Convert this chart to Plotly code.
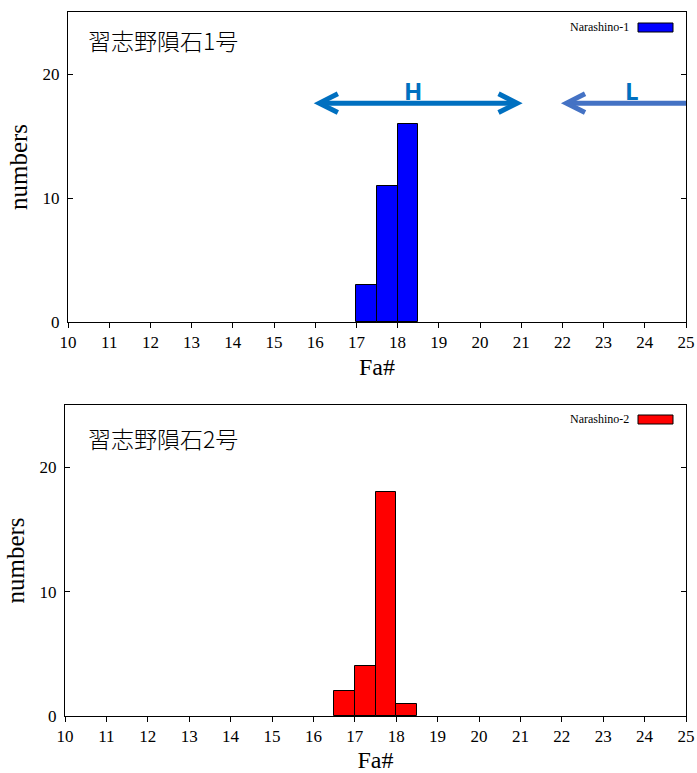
import plotly.graph_objects as go

# ---- data ----
bin_centers_1 = [17.25, 17.75, 18.25]
counts_1 = [3, 11, 16]
bin_centers_2 = [16.75, 17.25, 17.75, 18.25]
counts_2 = [2, 4, 18, 1]
bin_width = 0.5
series_names = ["Narashino-1", "Narashino-2"]
panel_titles = ["習志野隕石1号", "習志野隕石2号"]
x_ticks = list(range(10, 26))
y_ticks = [0, 10, 20]
h_range = [16, 21]
l_range = [22, 25]

W, H = 697, 773
fig = go.Figure()

fig.add_trace(go.Bar(x=bin_centers_1, y=counts_1, width=bin_width,
                     marker=dict(color="#0000FF", line=dict(color="black", width=1)),
                     xaxis="x", yaxis="y", showlegend=False, name=series_names[0]))
fig.add_trace(go.Bar(x=bin_centers_2, y=counts_2, width=bin_width,
                     marker=dict(color="#FF0000", line=dict(color="black", width=1)),
                     xaxis="x2", yaxis="y2", showlegend=False, name=series_names[1]))

serif = "Liberation Serif, Times New Roman, serif"
tickfont = dict(family=serif, size=17, color="black")
x_common = dict(showline=True, linecolor="black", linewidth=1, mirror=True,
                ticks="outside", ticklen=5, tickcolor="black", showgrid=False,
                zeroline=False, automargin=False, tickfont=tickfont, range=[10, 25],
                tickvals=x_ticks)
y_common = dict(showline=True, linecolor="black", linewidth=1, mirror="ticks",
                ticks="inside", ticklen=5, tickcolor="black", showgrid=False,
                zeroline=False, automargin=False, tickfont=tickfont, range=[0, 25],
                tickvals=y_ticks, ticklabelstandoff=4)

fig.update_layout(
    width=W, height=H, margin=dict(l=0, r=0, t=0, b=0, autoexpand=False),
    plot_bgcolor="white", paper_bgcolor="white", bargap=0,
    xaxis=dict(domain=[68 / W, 686 / W], anchor="y",
               title=dict(text="Fa#", font=dict(family=serif, size=24, color="black"), standoff=6),
               **x_common),
    yaxis=dict(domain=[1 - 322 / H, 1 - 12 / H], anchor="x",
               title=dict(text="numbers", font=dict(family=serif, size=25, color="black"), standoff=7),
               **y_common),
    xaxis2=dict(domain=[65 / W, 686 / W], anchor="y2",
                title=dict(text="Fa#", font=dict(family=serif, size=24, color="black"), standoff=6),
                **x_common),
    yaxis2=dict(domain=[1 - 716 / H, 1 - 405 / H], anchor="x2",
                title=dict(text="numbers", font=dict(family=serif, size=25, color="black"), standoff=7),
                **y_common),
)

cjk = "Noto Sans CJK JP"
# panel titles
for txt, yc in [(panel_titles[0], 40), (panel_titles[1], 438)]:
    fig.add_annotation(text=txt, xref="paper", yref="paper", x=86 / W, y=1 - yc / H,
                       xanchor="left", yanchor="middle", showarrow=False,
                       font=dict(family=cjk, size=23, color="black", weight=300))

# legends (text left of swatch, gnuplot style)
for name, color, yc, y0, y1 in [(series_names[0], "#0000FF", 27, 23, 32),
                                 (series_names[1], "#FF0000", 419, 415, 424)]:
    fig.add_annotation(text=name, xref="paper", yref="paper", x=631 / W, y=1 - yc / H,
                       xanchor="right", yanchor="middle", showarrow=False,
                       font=dict(family=serif, size=12, color="black"))
    fig.add_shape(type="rect", xref="paper", yref="paper", x0=638 / W, x1=673 / W,
                  y0=1 - y1 / H, y1=1 - y0 / H, fillcolor=color,
                  line=dict(color="black", width=1))

# arrows for H and L ranges (top panel)
ya = 17.65
dx, dy = 0.45, 0.75
inset = 0.1
hc = "#0070C0"
lc = "#4472C4"
hl, hr = h_range[0] + inset, h_range[1] - inset
ll = l_range[0] + inset
fig.add_shape(type="line", xref="x", yref="y", x0=hl + 0.05, x1=hr - 0.05,
              y0=ya, y1=ya, line=dict(color=hc, width=5))
fig.add_shape(type="path", xref="x", yref="y",
              path=f"M {hl+dx},{ya+dy} L {hl},{ya} L {hl+dx},{ya-dy}",
              line=dict(color=hc, width=5))
fig.add_shape(type="path", xref="x", yref="y",
              path=f"M {hr-dx},{ya+dy} L {hr},{ya} L {hr-dx},{ya-dy}",
              line=dict(color=hc, width=5))
fig.add_shape(type="line", xref="x", yref="y", x0=ll + 0.05, x1=l_range[1],
              y0=ya, y1=ya, line=dict(color=lc, width=5))
fig.add_shape(type="path", xref="x", yref="y",
              path=f"M {ll+dx},{ya+dy} L {ll},{ya} L {ll+dx},{ya-dy}",
              line=dict(color=lc, width=5))
fig.add_annotation(text="<b>H</b>", xref="x", yref="y", x=18.37, y=18.7, showarrow=False,
                   xanchor="center", yanchor="middle",
                   font=dict(family="Open Sans", size=24, color=hc))
fig.add_annotation(text="<b>L</b>", xref="x", yref="y", x=23.69, y=18.7, showarrow=False,
                   xanchor="center", yanchor="middle",
                   font=dict(family="Open Sans", size=24, color=hc))

fig.write_html("out.html", config={"displayModeBar": False},
               post_script="document.body.style.margin='0';")
